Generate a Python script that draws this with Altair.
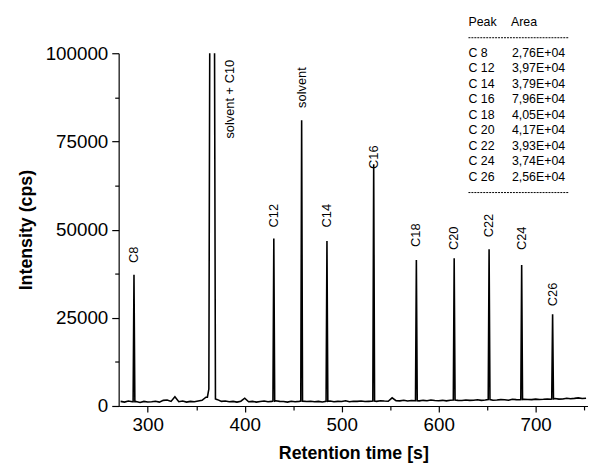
import altair as alt
import numpy as np
import pandas as pd

# ---- data ----
baseline_start = 272
baseline_step = 4
baseline_v = [
    1300, 1100, 1400, 1200, 1250, 1000, 1300, 1150,
    1200, 1350, 1100, 1600, 1700, 1300, 2600, 1200, 1400, 1100, 1300, 1200,
    1400, 1600, 2500, 1500, 1500,
    1800, 1300, 1400, 1200, 1300, 1100, 1350, 2200,
    1200, 1300, 1100, 1250, 1400, 1200, 1300, 1500,
    1300, 1250, 1100, 1350, 1200, 1300, 1400, 1250,
    1350, 1200, 1300, 1150, 1300, 1400, 1200, 1300,
    1250, 1500, 1200, 1350, 1300, 1400, 1250, 1300,
    1400, 1300, 1500, 1400, 1350, 2300, 1500, 1450,
    1600, 1400, 1550, 1500, 1450, 1600, 1500, 1700,
    1550, 1500, 1600, 1450, 1650, 1700, 1600, 1550,
    1700, 1600, 1650, 1750, 1600, 1700, 1800, 1650,
    1700, 1800, 1750, 1650, 1900, 1800, 1750, 1900,
    1850, 1800, 1950, 1850, 1900, 2000, 1900, 2100,
    1950, 2000, 2200, 2050, 2150, 2300, 2100, 2200,
]

peak_t = [285.8, 430.0, 458.7, 484.8, 533.0, 577.0, 616.0, 652.0, 685.6, 717.5]
peak_h = [37200, 47500, 81000, 46800, 68500, 41400, 41900, 44400, 40000, 26000]

# saturated solvent + C10 peak
solvent_t = [361.5, 363.0, 364.2, 368.6, 369.8]
solvent_v = [2500, 4800, 130000, 130000, 2000]

label_text = ["C8", "solvent + C10", "C12", "solvent", "C14", "C16",
              "C18", "C20", "C22", "C24", "C26"]
label_t = [285.8, 384.4, 430.0, 458.6, 484.8, 533.0, 577.0, 616.0, 652.0, 685.6, 717.5]
label_y = [40500, 75800, 50600, 84500, 50600, 67200, 45100, 44200, 47800, 44200, 28300]

table_peak = ["C 8", "C 12", "C 14", "C 16", "C 18", "C 20", "C 22", "C 24", "C 26"]
table_area = ["2,76E+04", "3,97E+04", "3,79E+04", "7,96E+04", "4,05E+04",
              "4,17E+04", "3,93E+04", "3,74E+04", "2,56E+04"]

x_ticks = [300, 350, 400, 450, 500, 550, 600, 650, 700, 750]
y_ticks = [0, 12500, 25000, 37500, 50000, 62500, 75000, 87500, 100000]

# ---- build the trace table ----
baseline_t = [baseline_start + baseline_step * i for i in range(len(baseline_v))]
half = 0.9
rows = []
for t, v in zip(baseline_t, baseline_v):
    if any(abs(t - p) <= half + 0.5 for p in peak_t):
        continue
    if solvent_t[0] - 0.5 <= t <= solvent_t[-1] + 0.5:
        continue
    rows.append((t, v))
for t, h in zip(peak_t, peak_h):
    foot = float(np.interp(t, baseline_t, baseline_v))
    rows += [(t - half, foot), (t, h), (t + half, foot)]
rows += list(zip(solvent_t, solvent_v))
trace = pd.DataFrame(rows, columns=["t", "v"]).sort_values("t")

labels = pd.DataFrame({"label": label_text, "t": label_t, "y": label_y})
one = pd.DataFrame({"k": [0]})

FONT = "Liberation Sans"

xscale = alt.Scale(domain=[270, 754], nice=False, zero=False)
yscale = alt.Scale(domain=[0, 100000], nice=False)

line = alt.Chart(trace).mark_line(color="black", strokeWidth=1.6, clip=True).encode(
    x=alt.X("t:Q", scale=xscale, title="Retention time [s]",
            axis=alt.Axis(values=x_ticks,
                          labelExpr="datum.value % 100 == 0 ? datum.label : ''",
                          tickSize={"condition": {"test": "datum.value % 100 == 0", "value": 6}, "value": 4},
                          labelPadding=4, titlePadding=10)),
    y=alt.Y("v:Q", scale=yscale, title="Intensity (cps)",
            axis=alt.Axis(values=y_ticks, format="d",
                          labelExpr="datum.value % 25000 == 0 ? datum.label : ''",
                          tickSize={"condition": {"test": "datum.value % 25000 == 0", "value": 7}, "value": 4},
                          labelPadding=4, titlePadding=10)),
    order="t:Q",
)

peak_labels = alt.Chart(labels).mark_text(
    angle=270, align="left", baseline="middle", font=FONT, fontSize=13, color="black"
).encode(x="t:Q", y="y:Q", text="label:N")

head_peak = alt.Chart(one).mark_text(align="left", baseline="middle", font=FONT,
                                     fontSize=12.5, color="black").encode(
    x=alt.value(354), y=alt.value(-31.7), text=alt.value("Peak"))
head_area = alt.Chart(one).mark_text(align="left", baseline="middle", font=FONT,
                                     fontSize=12.5, color="black").encode(
    x=alt.value(397), y=alt.value(-31.7), text=alt.value("Area"))
col_peak = alt.Chart(one).mark_text(align="left", baseline="middle", font=FONT,
                                    fontSize=12.5, lineHeight=15.7, color="black").encode(
    x=alt.value(354), y=alt.value(-0.7), text=alt.value(table_peak))
col_area = alt.Chart(one).mark_text(align="left", baseline="middle", font=FONT,
                                    fontSize=12.5, lineHeight=15.7, color="black").encode(
    x=alt.value(398), y=alt.value(-0.7), text=alt.value(table_area))
dash1 = alt.Chart(one).mark_rule(color="black", strokeWidth=1, strokeDash=[2, 1]).encode(
    x=alt.value(354), x2=alt.value(456), y=alt.value(-15.7))
dash2 = alt.Chart(one).mark_rule(color="black", strokeWidth=1, strokeDash=[2, 1]).encode(
    x=alt.value(354), x2=alt.value(456), y=alt.value(141))

chart = alt.layer(line, peak_labels, head_peak, head_area, col_peak, col_area, dash1, dash2).properties(
    width=475, height=357,
    autosize="none",
    padding={"left": 112, "top": 43, "right": 0, "bottom": 62},
).configure_view(stroke=None).configure_axis(
    grid=False, domainColor="black", domainWidth=1.2, tickColor="black", tickWidth=1.2,
    labelFont=FONT, labelFontSize=19, labelColor="black",
    titleFont=FONT, titleFontSize=18, titleFontWeight="bold", titleColor="black",
)

chart.save("out.html", embed_options={"renderer": "svg", "actions": False})
